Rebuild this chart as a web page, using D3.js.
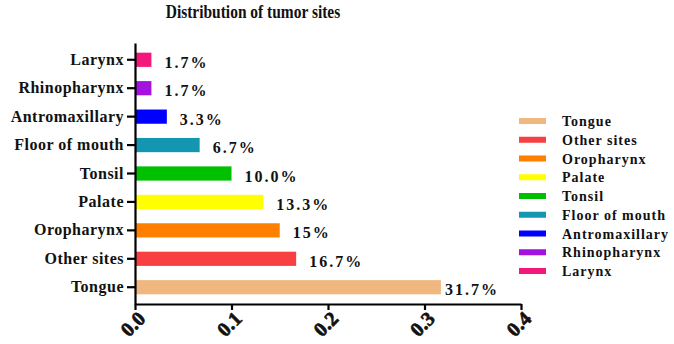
<!DOCTYPE html>
<html>
<head>
<meta charset="utf-8">
<script src="https://cdn.jsdelivr.net/npm/d3@7"></script>
<style>
  body { margin: 0; background: #fff; }
  text { font-family: "Liberation Serif", "Times New Roman", serif; font-weight: bold; fill: #111; }
</style>
</head>
<body>
<div id="chart"></div>
<script>
// ------- Data -------
const sites = ["Tongue", "Other sites", "Oropharynx", "Palate", "Tonsil",
  "Floor of mouth", "Antromaxillary", "Rhinopharynx", "Larynx"];
const shares = [0.317, 0.167, 0.15, 0.133, 0.10, 0.067, 0.033, 0.017, 0.017];
const shareLabels = ["31.7%", "16.7%", "15%", "13.3%", "10.0%", "6.7%", "3.3%", "1.7%", "1.7%"];
const siteColors = ["#F0B880", "#F84043", "#FF7F00", "#FFFF00", "#00C000",
  "#1396B0", "#0000FF", "#A313E0", "#F2197A"];
const xTicks = [0.0, 0.1, 0.2, 0.3, 0.4];

// ------- Chart Setup -------
const W = 674, H = 344;
const svg = d3.select("#chart").append("svg")
  .attr("width", W)
  .attr("height", H);

const x = d3.scaleLinear().domain([0, 0.4]).range([135, 521]);

// Larynx on top, Tongue at bottom
const y = d3.scaleBand()
  .domain(sites.slice().reverse())
  .range([43, 304])
  .paddingInner(0.5)
  .paddingOuter(0.34);

const color = d3.scaleOrdinal().domain(sites).range(siteColors);

const rows = sites.map((s, i) => ({ site: s, value: shares[i], label: shareLabels[i] }));

// title (a bit condensed like the original)
svg.append("text")
  .attr("transform", "translate(253,18) scale(0.86,1)")
  .attr("text-anchor", "middle")
  .style("font-size", "18px")
  .text("Distribution of tumor sites");

// ------- Bars -------
svg.append("g")
  .selectAll("rect")
  .data(rows)
  .enter()
  .append("rect")
  .attr("x", x(0))
  .attr("y", d => y(d.site))
  .attr("width", d => x(d.value) - x(0))
  .attr("height", y.bandwidth())
  .attr("fill", d => color(d.site));

// value labels
svg.append("g")
  .selectAll("text")
  .data(rows)
  .enter()
  .append("text")
  .attr("x", d => x(d.value) + (d.value > 0.3 ? 4 : 13))
  .attr("y", d => y(d.site) + y.bandwidth() / 2 + 8)
  .style("font-size", "16px")
  .style("letter-spacing", "2px")
  .text(d => d.label);

// ------- Axes -------
const xAxis = svg.append("g")
  .attr("transform", `translate(0,${304})`)
  .call(d3.axisBottom(x).tickValues(xTicks).tickFormat(d3.format(".1f")).tickSize(6).tickSizeOuter(0));

xAxis.select(".domain").attr("stroke", "#000").attr("stroke-width", 2.2);
xAxis.selectAll(".tick line").attr("stroke", "#000").attr("stroke-width", 2.2);
xAxis.selectAll("text")
  .attr("transform", "translate(6,11) rotate(-45)")
  .attr("dy", "0.35em")
  .attr("x", 0)
  .attr("y", 0)
  .style("text-anchor", "end")
  .style("font-size", "20px")
  .style("font-family", "'Liberation Serif', serif")
  .style("font-weight", "bold")
  .attr("fill", "#111")
  .attr("stroke", "#111")
  .attr("stroke-width", 0.7);

const yAxis = svg.append("g")
  .attr("transform", `translate(${135},0)`)
  .call(d3.axisLeft(y).tickSize(8).tickSizeOuter(0).tickPadding(3));

yAxis.select(".domain").attr("stroke", "#000").attr("stroke-width", 2.2);
yAxis.selectAll(".tick line").attr("stroke", "#000").attr("stroke-width", 2.2);
yAxis.selectAll("text")
  .style("font-size", "16px")
  .style("letter-spacing", "0.5px")
  .style("font-family", "'Liberation Serif', serif")
  .style("font-weight", "bold")
  .attr("fill", "#111");

// ------- Legend -------
const legend = svg.append("g")
  .attr("transform", "translate(519,121)");

sites.forEach((s, i) => {
  const g = legend.append("g")
    .attr("transform", `translate(0,${i * 18.75})`);

  g.append("rect")
    .attr("x", 0)
    .attr("y", -3)
    .attr("width", 27)
    .attr("height", 6)
    .attr("fill", color(s));

  g.append("text")
    .attr("x", 43)
    .attr("y", 5)
    .style("font-size", "14px")
    .style("letter-spacing", "1px")
    .text(s);
});
</script>
</body>
</html>
